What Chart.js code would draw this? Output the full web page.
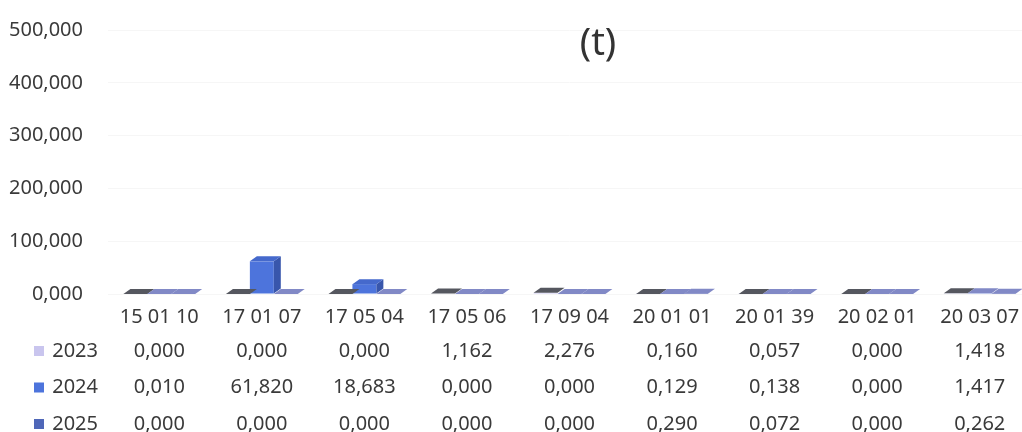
<!DOCTYPE html>
<html>
<head>
<meta charset="utf-8">
<script src="https://cdn.jsdelivr.net/npm/chart.js@4.4.1/dist/chart.umd.min.js"></script>
<style>
html, body { margin: 0; padding: 0; background: #fff; overflow: hidden; }
#wrap { width: 1022px; height: 432px; overflow: hidden; }
</style>
</head>
<body>
<div id="wrap"><canvas id="chart" width="1040" height="432"></canvas></div>
<script>
// values in t
const categories = ['15 01 10', '17 01 07', '17 05 04', '17 05 06', '17 09 04', '20 01 01', '20 01 39', '20 02 01', '20 03 07'];
const years = ['2023', '2024', '2025'];
const values2023 = [0.000, 0.000, 0.000, 1.162, 2.276, 0.160, 0.057, 0.000, 1.418];
const values2024 = [0.010, 61.820, 18.683, 0.000, 0.000, 0.129, 0.138, 0.000, 1.417];
const values2025 = [0.000, 0.000, 0.000, 0.000, 0.000, 0.290, 0.072, 0.000, 0.262];
const yMin = 0, yMax = 500, yStep = 100;

const fmt = v => v.toFixed(3).replace('.', ',');
const font = "'Noto Sans', sans-serif";
const textColor = '#3a3a3a';

// fake 3d: a top face and a right side face on every bar
const bars3d = {
    id: 'bars3d',
    afterDatasetsDraw(chart) {
        const ctx = chart.ctx;
        const dx = 7, dy = 5;
        ctx.save();
        chart.data.datasets.forEach((ds, i) => {
            chart.getDatasetMeta(i).data.forEach(bar => {
                const p = bar.getProps(['x', 'y', 'base', 'width'], true);
                const l = p.x - p.width / 2, r = p.x + p.width / 2;
                const tall = p.base - p.y > 2;
                if (tall) {
                    ctx.fillStyle = ds.sideColor;
                    ctx.beginPath();
                    ctx.moveTo(r, p.y);
                    ctx.lineTo(r + dx, p.y - dy);
                    ctx.lineTo(r + dx, p.base - dy);
                    ctx.lineTo(r, p.base);
                    ctx.closePath();
                    ctx.fill();
                }
                ctx.fillStyle = tall ? ds.topColor : ds.floorColor;
                ctx.beginPath();
                ctx.moveTo(l, p.y);
                ctx.lineTo(r, p.y);
                ctx.lineTo(r + dx, p.y - dy);
                ctx.lineTo(l + dx, p.y - dy);
                ctx.closePath();
                ctx.fill();
            });
        });
        ctx.restore();
    }
};

const titleText = {
    id: 'titleText',
    afterDraw(chart) {
        const ctx = chart.ctx;
        ctx.save();
        ctx.font = "38px " + font;
        ctx.fillStyle = '#333333';
        ctx.textAlign = 'center';
        ctx.textBaseline = 'middle';
        ctx.fillText('(t)', 598, 44);
        ctx.restore();
    }
};

// data table under the axis
const dataTable = {
    id: 'dataTable',
    afterDraw(chart) {
        const ctx = chart.ctx;
        const xs = chart.scales.x;
        const rows = [values2023, values2024, values2025];
        const top = chart.chartArea.bottom + 57;
        ctx.save();
        ctx.font = "20px " + font;
        ctx.textBaseline = 'middle';
        rows.forEach((vals, r) => {
            const y = top + r * 36.5;
            ctx.fillStyle = chart.data.datasets[r].backgroundColor;
            ctx.fillRect(34, y - 5, 10, 10);
            ctx.fillStyle = textColor;
            ctx.textAlign = 'right';
            ctx.fillText(years[r], 98, y);
            ctx.textAlign = 'center';
            vals.forEach((v, i) => ctx.fillText(fmt(v), xs.getPixelForValue(i), y));
        });
        ctx.restore();
    }
};

new Chart(document.getElementById('chart'), {
    type: 'bar',
    data: {
        labels: categories,
        datasets: [
            { label: years[0], data: values2023, backgroundColor: '#c9c5ee', topColor: '#b7b4e0', sideColor: '#9d9ac8', floorColor: '#55575f' },
            { label: years[1], data: values2024, backgroundColor: '#4d74dc', topColor: '#4569cc', sideColor: '#3856ac', floorColor: '#8189c6' },
            { label: years[2], data: values2025, backgroundColor: '#4f67b8', topColor: '#5f76c4', sideColor: '#3c5098', floorColor: '#8189c6' }
        ]
    },
    options: {
        responsive: false,
        animation: false,
        layout: { padding: { top: 30, right: 9, left: 8, bottom: 0 } },
        datasets: { bar: { categoryPercentage: 0.7, barPercentage: 1.0 } },
        plugins: {
            legend: { display: false },
            tooltip: { enabled: false }
        },
        scales: {
            x: {
                grid: { display: false },
                border: { display: false },
                ticks: { color: textColor, font: { family: font, size: 20 }, padding: 3, maxRotation: 0, autoSkip: false },
                afterFit(scale) { scale.height = 138; }
            },
            y: {
                min: yMin,
                max: yMax,
                grid: { color: '#f6f6f6', drawTicks: false },
                border: { display: false },
                ticks: {
                    stepSize: yStep,
                    color: textColor,
                    font: { family: font, size: 20 },
                    padding: 25,
                    callback: v => fmt(v)
                },
                afterFit(scale) {
                    scale.width = 100;
                    scale.paddingTop = 0;
                    scale.paddingBottom = 0;
                }
            }
        }
    },
    plugins: [bars3d, titleText, dataTable]
});
</script>
</body>
</html>
